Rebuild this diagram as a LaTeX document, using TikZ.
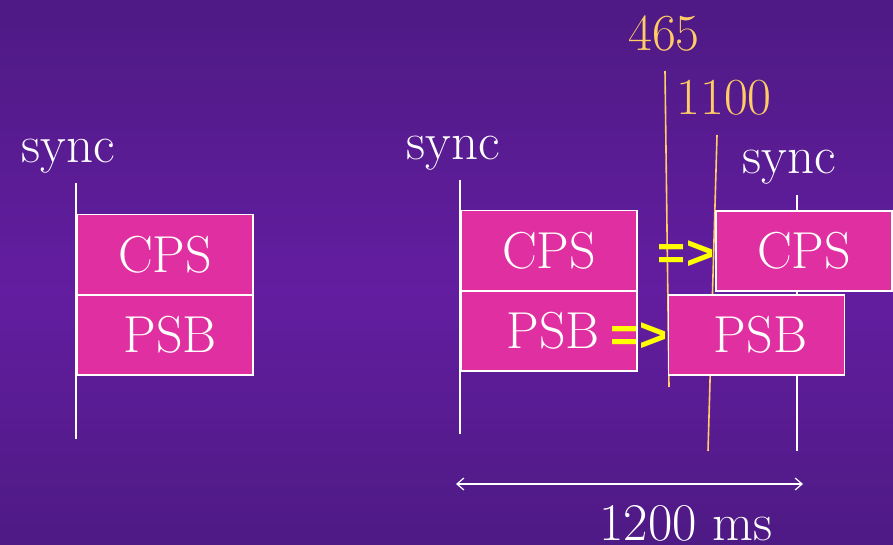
\documentclass[tikz,border=0pt]{standalone}
\usepackage{fontspec}
\newfontfamily\arrowfont{Liberation Sans}
\usetikzlibrary{arrows.meta}
\definecolor{bgtop}{HTML}{4E1A84}
\definecolor{bgmid}{HTML}{631DA0}
\definecolor{boxfill}{HTML}{E02FA0}
\definecolor{mark}{HTML}{FFCC66}
\definecolor{arrowyel}{HTML}{FFFF00}
\begin{document}
\begin{tikzpicture}[x=1pt,y=-1pt,
  box/.style={draw=white, line width=1.6pt, fill=boxfill, text=white,
    minimum width=176pt, minimum height=80pt, inner sep=0pt,
    font=\fontsize{52}{60}\selectfont},
  lbl/.style={text=white, inner sep=0pt, font=\fontsize{53}{60}\selectfont},
  marklbl/.style={text=mark, inner sep=0pt, font=\fontsize{52}{60}\selectfont},
  wline/.style={draw=white, line width=1.6pt},
  mline/.style={draw=mark, line width=1.6pt},
  imply/.style={text=arrowyel, inner sep=0pt, font=\arrowfont\bfseries\fontsize{48}{50}\selectfont}
]
\useasboundingbox (0,0) rectangle (893,545);
\shade[top color=bgtop, bottom color=bgmid] (0,0) rectangle (893,290);
\shade[top color=bgmid, bottom color=bgtop] (0,289.5) rectangle (893,545);

% coordinates for lines
\coordinate (l1t) at (76,183);   \coordinate (l1b) at (76,439);
\coordinate (l2t) at (460,180);  \coordinate (l2b) at (460,434);
\coordinate (l3t) at (797,195);  \coordinate (l3b) at (797,451);
\coordinate (m1t) at (665,71);   \coordinate (m1b) at (669,387);
\coordinate (m2t) at (717,135);  \coordinate (m2b) at (708,451);

\draw[wline] (l1t) -- (l1b);
\draw[wline] (l2t) -- (l2b);
\draw[wline] (l3t) -- (l3b);
\draw[mline] (m1t) -- (m1b);
\draw[mline] (m2t) -- (m2b);

% left group
\node[lbl, anchor=base] (syncL) at (68,163) {sync};
\node[box] (cpsL) at (165,254.5) {CPS};
\node[box] (psbL) at (165,335) {\hspace*{10pt}PSB};

% right group
\node[lbl, anchor=base] (syncR) at (453,160) {sync};
\node[box] (cpsR) at (549,250.5) {CPS};
\node[box] (psbR) at (549,331) {\hspace*{8pt}PSB};

\node[lbl, anchor=base] (syncR2) at (789,174) {sync};
\node[box] (cpsR2) at (804,251) {CPS};
\node[box] (psbR2) at (756.5,335) {\hspace*{8pt}PSB};

% marker labels
\node[marklbl, anchor=base] (m465) at (664,51) {465};
\node[marklbl, anchor=base] (m1100) at (724,115) {1100};

% implication arrows
\node[imply] (imp1) at (686,255) {=>};
\node[imply] (imp2) at (639,337) {=>};

% period arrow
\coordinate (pa) at (456,484);
\coordinate (pb) at (803,484);
\draw[white, line width=1.2pt, {Straight Barb[length=7pt,width=12pt]}-{Straight Barb[length=7pt,width=12pt]}] (pa) -- (pb);
\node[lbl, anchor=base] (period) at (686,540) {1200 ms};
\end{tikzpicture}
\end{document}
